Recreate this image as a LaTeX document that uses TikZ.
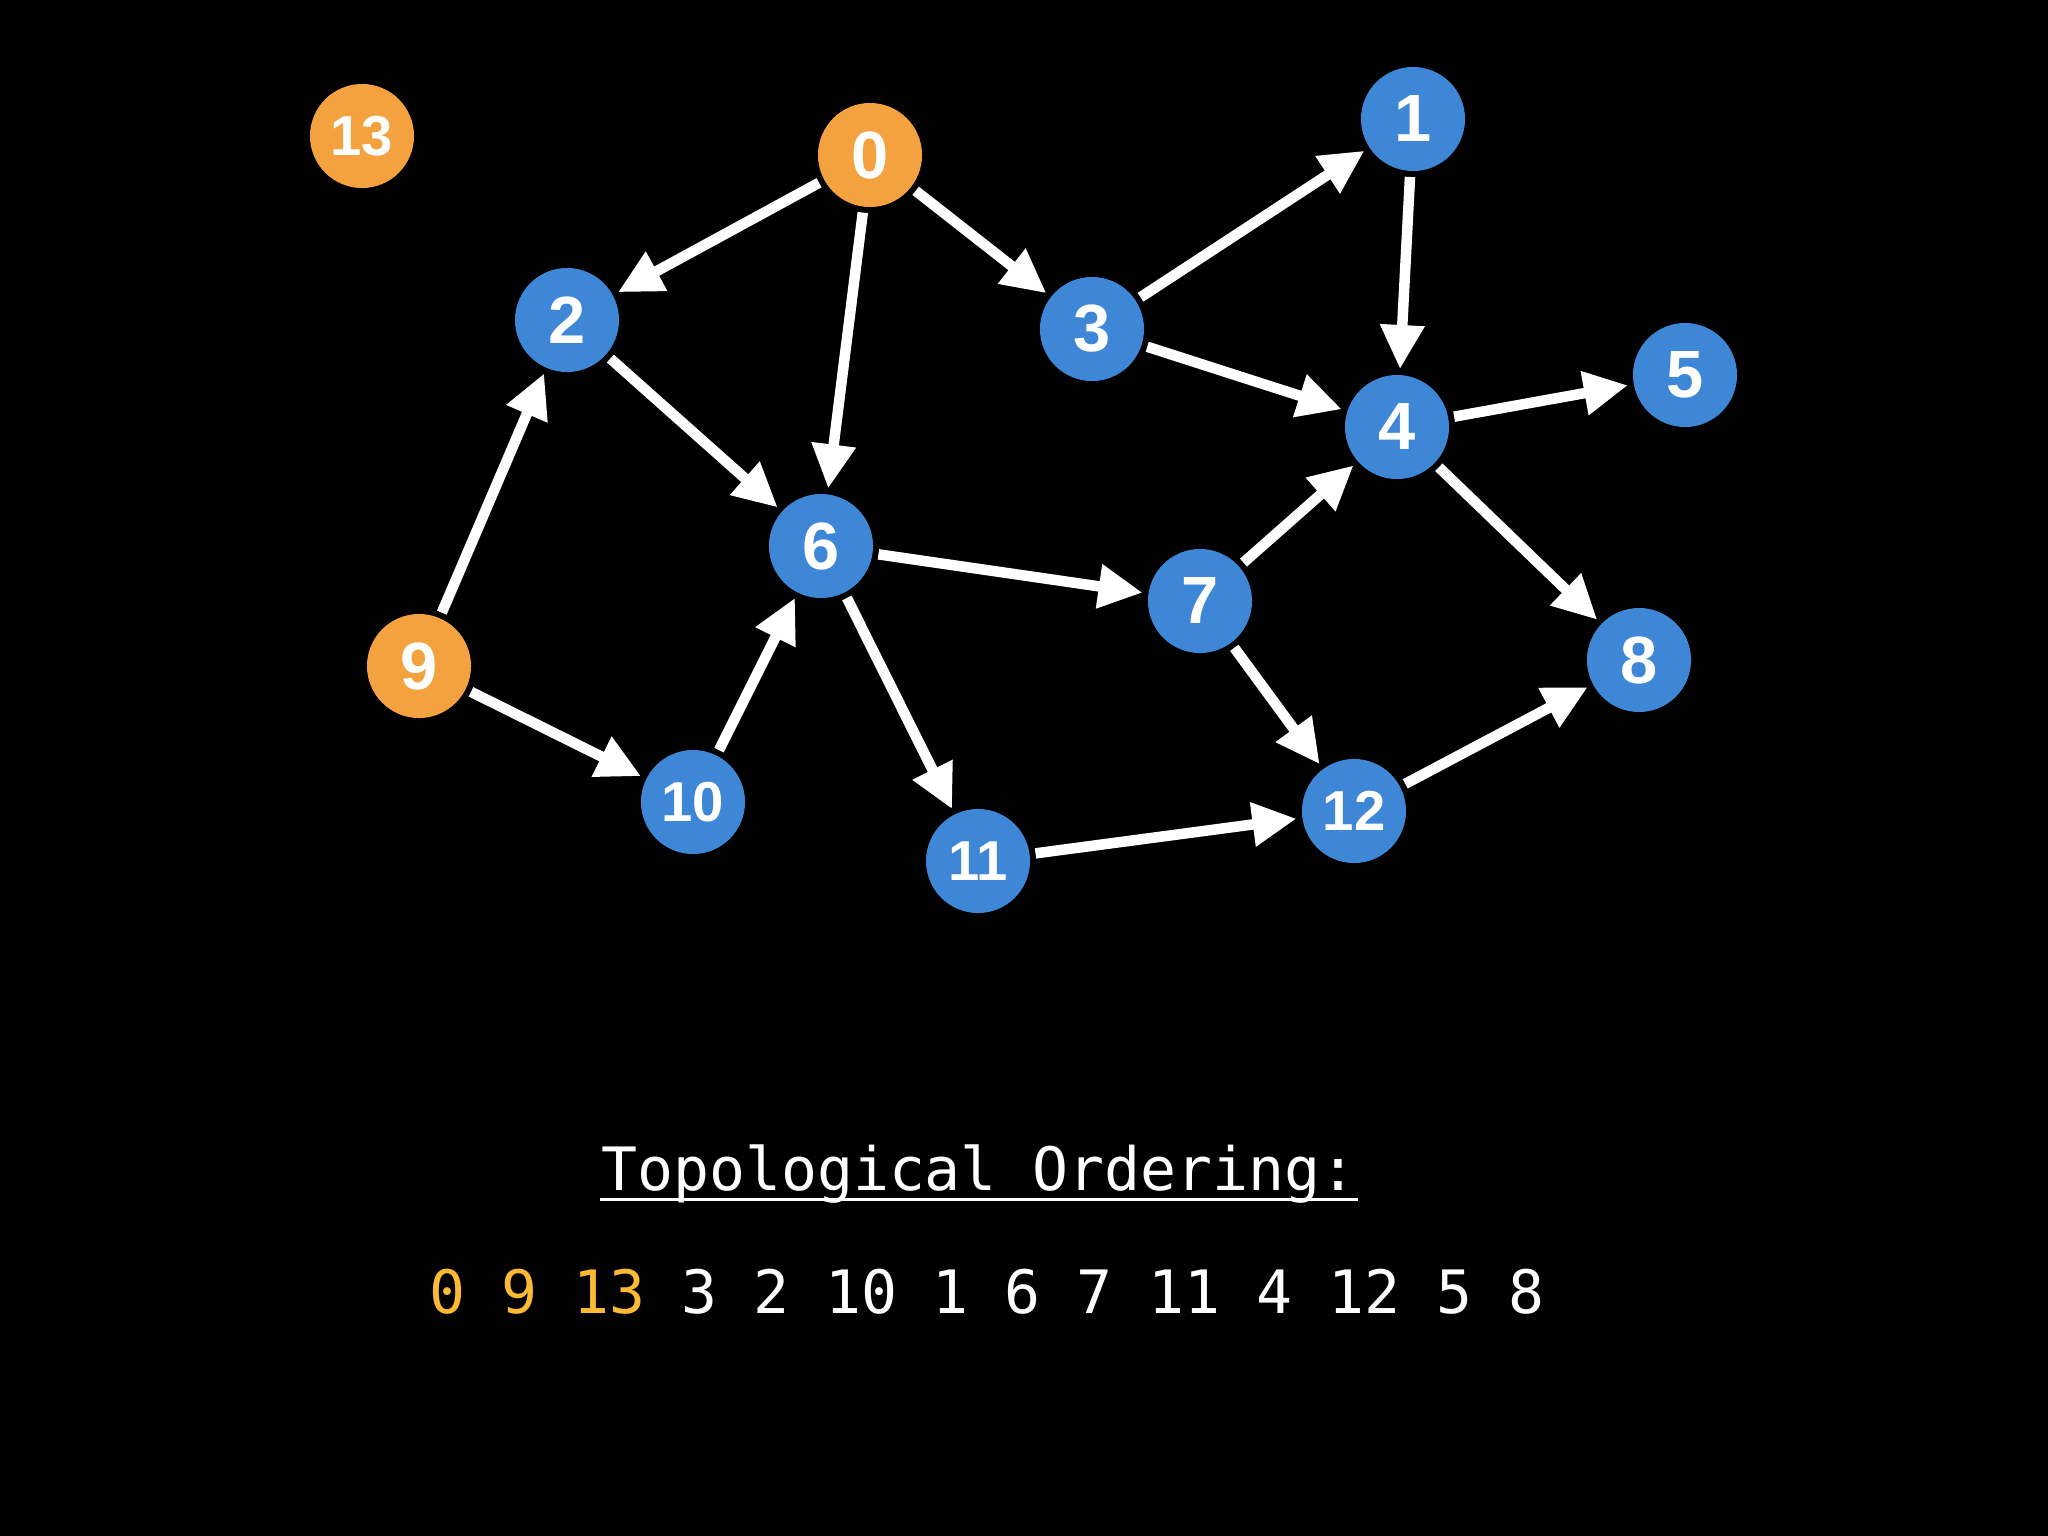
\documentclass[tikz,border=0pt]{standalone}
\usepackage{fontspec}
\setmainfont{Liberation Sans}
\newfontfamily\codefont{DejaVu Sans Mono}
\usetikzlibrary{arrows.meta,positioning}
\definecolor{cOr}{HTML}{F4A240}
\definecolor{cBl}{HTML}{3D87D6}
\definecolor{cYe}{HTML}{FBB934}
\tikzset{
  vtx/.style={circle,inner sep=0pt,outer sep=0pt,minimum size=1.04cm,
              text=white,font=\bfseries\fontsize{19}{20}\selectfont},
  vtxsm/.style={vtx,font=\bfseries\fontsize{16}{18}\selectfont},
  src/.style={vtx,fill=cOr},
  srcsm/.style={vtxsm,fill=cOr},
  dst/.style={vtx,fill=cBl},
  dstsm/.style={vtxsm,fill=cBl},
  edge/.style={-{Triangle[length=0.44cm,width=0.42cm]},line width=0.105cm,white,
               shorten <=0.06cm,shorten >=0.06cm},
  code/.style={inner sep=0pt,text=white,font=\codefont\fontsize{17}{20}\selectfont},
}

\begin{document}
\begin{tikzpicture}[x=0.01cm,y=-0.01cm]
  \fill[black] (0,0) rectangle (2048,1536);
  \useasboundingbox (0,0) rectangle (2048,1536);
  % vertices: name/x/y/style
  \foreach \n/\x/\y/\s in {13/362/136/srcsm,0/870/155/src,9/419/666/src,
      1/1413/119/dst,2/567/320/dst,3/1092/329/dst,4/1397/427/dst,
      5/1685/375/dst,6/821/546/dst,7/1200/601/dst,8/1639/660/dst,
      10/693/802/dstsm,11/978/861/dstsm,12/1354/811/dstsm}{
     \node[\s] (v\n) at (\x,\y) {\n};}
  % directed edges
  \foreach \a/\b in {0/2,0/6,0/3,3/1,3/4,1/4,4/5,4/8,2/6,9/2,9/10,
      10/6,6/7,6/11,7/4,7/12,11/12,12/8}{
     \draw[edge] (v\a) -- (v\b);}
  \node[code,anchor=base] (title) at (979,1190) {Topological Ordering:};
  \draw[white,line width=0.03cm] ([yshift=-0.09cm]title.base west)
     -- ([yshift=-0.09cm]title.base east);
  \node[code,anchor=base] (order) at (987,1313)
     {\textcolor{cYe}{0 9 13} 3 2 10 1 6 7 11 4 12 5 8};
\end{tikzpicture}
\end{document}
